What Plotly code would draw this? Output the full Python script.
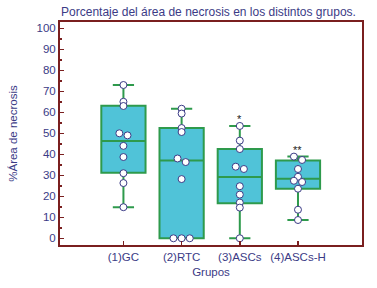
import plotly.graph_objects as go

categories = ["(1)GC", "(2)RTC", "(3)ASCs", "(4)ASCs-H"]

gc_points = [73, 65, 63, 50, 49, 44, 38.7, 31, 26.3, 14.8]
rtc_points = [61.7, 59.4, 52.5, 50.6, 38, 36.3, 28.2, 0, 0, 0]
ascs_points = [53.5, 46.5, 42.5, 34.1, 33, 24.8, 20.8, 17, 14.6, 0]
ascsh_points = [38.9, 37.3, 33, 29.3, 27.4, 26.8, 23.6, 13.6, 8.7]

q1 = [31.2, 0, 16.7, 23.6]
median = [46.3, 37.1, 29.2, 28.4]
q3 = [63.1, 52.5, 42.5, 37.0]
lowerfence = [14.8, 0, 0, 8.7]
upperfence = [73.0, 61.7, 53.5, 38.9]

significance = ["", "", "*", "**"]

all_points = [gc_points, rtc_points, ascs_points, ascsh_points]

navy = "#3b3b86"
frame = "#7a1f1f"
fill = "#50c3d8"
edge = "#2e9a4c"

fig = go.Figure()

xs = list(range(len(categories)))
fig.add_trace(go.Box(
    x=xs, q1=q1, median=median, q3=q3,
    lowerfence=lowerfence, upperfence=upperfence,
    fillcolor=fill, line=dict(color=edge, width=2),
    width=0.76, whiskerwidth=0.48, boxpoints=False,
    hoverinfo="skip", showlegend=False,
))

# points, dodged horizontally when values nearly coincide
px, py = [], []
for i, pts in enumerate(all_points):
    vals = sorted(pts, reverse=True)
    groups = []
    for v in vals:
        if groups and abs(groups[-1][-1] - v) < 1.8:
            groups[-1].append(v)
        else:
            groups.append([v])
    for g in groups:
        n = len(g)
        for k, v in enumerate(g):
            off = (k - (n - 1) / 2) * 0.14
            px.append(i + off)
            py.append(v)

fig.add_trace(go.Scatter(
    x=px, y=py, mode="markers",
    marker=dict(size=7, color="white", line=dict(color=navy, width=1)),
    showlegend=False, hoverinfo="skip",
))

for i, s in enumerate(significance):
    if s:
        fig.add_annotation(x=i, y=upperfence[i] + 2.2, text=s, showarrow=False,
                           font=dict(size=11, color="#222222"), yanchor="bottom",
                           yshift=-6)

font_family = "Liberation Sans, Arial, sans-serif"

fig.update_layout(
    width=377, height=288,
    margin=dict(l=60, r=15, t=22, b=43),
    paper_bgcolor="white", plot_bgcolor="white",
    font=dict(family=font_family, color=navy, size=11),
    title=dict(text="Porcentaje del área de necrosis en los distintos grupos.",
               x=0.553, xanchor="center", y=0.958, yanchor="middle",
               font=dict(size=12, color=navy)),
    xaxis=dict(
        range=[-1.09, 4.1], tickmode="array", tickvals=xs, ticktext=categories,
        ticks="inside", ticklen=4, tickcolor=frame, tickwidth=1.5,
        showline=True, mirror=True, linecolor=frame, linewidth=2,
        showgrid=False, zeroline=False,
        title=dict(text="Grupos", standoff=6, font=dict(size=11.5, color=navy)),
        tickfont=dict(size=11.5, color=navy),
    ),
    yaxis=dict(
        range=[-3.2, 103], tickmode="linear", tick0=0, dtick=10,
        ticks="inside", ticklen=4, tickcolor=frame, tickwidth=1.5,
        minor=dict(ticks="inside", ticklen=2, tickcolor=frame, dtick=5),
        showline=True, mirror=True, linecolor=frame, linewidth=2,
        showgrid=False, zeroline=False,
        title=dict(text="%Área de necrosis", standoff=16, font=dict(size=11.5, color=navy)),
        tickfont=dict(size=11.5, color=navy),
    ),
)

fig.write_html("out.html",
               config={"displayModeBar": False, "staticPlot": True},
               post_script="document.body.style.margin='0';document.body.style.overflow='hidden';")
